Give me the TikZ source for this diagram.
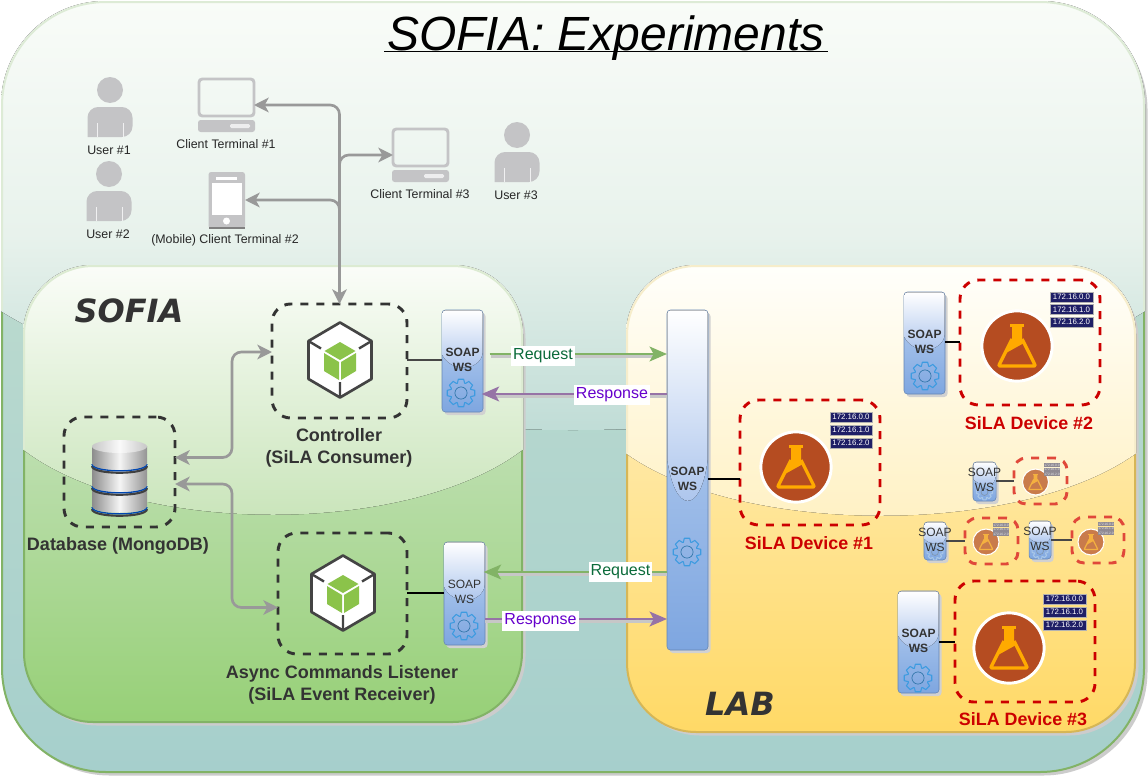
\documentclass[tikz,border=0pt]{standalone}
\usepackage{fontspec}
\setmainfont{Liberation Sans}
\newfontfamily\djfont{DejaVu Sans}
\usetikzlibrary{arrows.meta}
\definecolor{grayarrow}{HTML}{999999}
\definecolor{iconGray}{HTML}{C4C4C6}
\definecolor{dashBlack}{HTML}{333333}
\definecolor{dashRed}{HTML}{CC0000}
\definecolor{dashFade}{HTML}{E0483A}
\definecolor{reqGreen}{HTML}{82B366}
\definecolor{respPurple}{HTML}{9673A6}
\definecolor{reqText}{HTML}{0B6B3A}
\definecolor{respText}{HTML}{6600CC}
\definecolor{gearBlue}{HTML}{3D9BE0}
\definecolor{gearFade}{HTML}{A9C7E8}
\definecolor{tagNavy}{HTML}{1F1F66}
\definecolor{tagFade}{HTML}{8F8A93}
\definecolor{flaskBrown}{HTML}{B54C21}
\definecolor{flaskOrange}{HTML}{FFAA00}
\definecolor{fadeBrown}{HTML}{C97B4B}
\definecolor{fadeOrange}{HTML}{F4B040}
\definecolor{cubeGreen}{HTML}{8BC34A}
\definecolor{hexDark}{HTML}{444444}
\definecolor{BB}{HTML}{C0D5F2}
\definecolor{BC}{HTML}{7EA6E0}
\definecolor{BD}{HTML}{A8C2EC}
\definecolor{outerTop}{HTML}{C6E0D0}
\definecolor{outerBot}{HTML}{A6CFCC}
\definecolor{outerGlT}{HTML}{F9FCF8}
\definecolor{outerGlM}{HTML}{E8F2EC}
\definecolor{outerGlB}{HTML}{B8D8D2}
\definecolor{outerPale}{HTML}{DDEBD6}
\definecolor{greenTop}{HTML}{D5E8D4}
\definecolor{greenBot}{HTML}{97D077}
\definecolor{greenGlT}{HTML}{FBFDF9}
\definecolor{greenGlB}{HTML}{C6E3B6}
\definecolor{greenPale}{HTML}{DCEBD2}
\definecolor{yellowTop}{HTML}{FFF2CC}
\definecolor{yellowBot}{HTML}{FFD966}
\definecolor{yellowLine}{HTML}{D6B656}
\definecolor{yellowGlT}{HTML}{FFFFFC}
\definecolor{yellowGlB}{HTML}{FFF0C0}
\definecolor{yellowPale}{HTML}{F6EDCB}
\tikzset{
  gtip/.tip={Stealth[length=11pt,width=11pt,inset=3pt]},
  garrow/.style={draw=grayarrow,line width=2pt,rounded corners=7pt,gtip-gtip},
  garrowone/.style={draw=grayarrow,line width=2pt,rounded corners=7pt,-gtip},
  rawbox/.style={inner sep=0pt,outer sep=0pt,rectangle},
  dbox/.style={rawbox,draw=dashBlack,line width=2.2pt,dash pattern=on 6pt off 6pt,rounded corners=14pt},
  rbox/.style={rawbox,draw=dashRed,line width=2.2pt,dash pattern=on 6pt off 6pt,rounded corners=14pt},
  fbox/.style={rawbox,draw=dashFade,line width=2.2pt,dash pattern=on 6pt off 6pt,rounded corners=9pt},
  smalllab/.style={inner sep=0pt,font=\fontsize{9.3}{11}\selectfont,text=black!85},
  biglab/.style={inner sep=0pt,align=center,font=\fontsize{13.5}{16.5}\selectfont\bfseries,text=dashBlack},
  redlab/.style={inner sep=0pt,font=\fontsize{13.4}{16}\selectfont\bfseries,text=dashRed},
  headlab/.style={inner sep=0pt,text=dashBlack,font=\djfont\fontsize{24}{28}\selectfont\bfseries\itshape},
  soaptxt/.style={inner sep=0pt,align=center,text=dashBlack,font=\fontsize{9}{11.25}\selectfont},
  soapbold/.style={soaptxt,font=\fontsize{9}{11.25}\selectfont\bfseries},
  wirelab/.style={rawbox,fill=white,font=\fontsize{12}{14}\selectfont,minimum height=15pt,inner xsep=1.5pt},
  wirelink/.style={line width=2.2pt,draw=black},
  wirefade/.style={line width=2.2pt,draw=black!72},
  shadowline/.style={line width=2pt,draw=black!22},
  reqline/.style={line width=2.2pt,draw=reqGreen,-{Stealth[length=13pt,width=11pt,inset=3pt]}},
  respline/.style={line width=2.2pt,draw=respPurple,-{Stealth[length=13pt,width=11pt,inset=3pt]}},
  iptag/.style={rawbox,fill=tagNavy,draw=gray!60,line width=.2pt,text=white,font=\fontsize{5.9}{7}\selectfont},
  iptagfade/.style={rawbox,fill=tagFade,text=white!80!tagFade,font=\fontsize{2.4}{3}\selectfont},
  curtag/.style={iptag},
  outerglass/.style={top color=outerGlT,bottom color=outerGlB,middle color=outerGlM},
  greenglass/.style={top color=greenGlT,bottom color=greenGlB},
  yellowglass/.style={top color=yellowGlT,bottom color=yellowGlB},
}
% name x1 y1 x2 y2 style
\newcommand{\placebox}[6]{%
  \pgfmathsetmacro\pw{(#4-#2)*0.75}\pgfmathsetmacro\ph{(#5-#3)*0.75}%
  \node[#6,minimum width=\pw pt,minimum height=\ph pt] (#1) at ({(#2+#4)/2},{(#3+#5)/2}) {};}
% name x1 y1 x2 y2 radius top bottom border
\newcommand{\glossbase}[9]{%
  \fill[black!20,rounded corners=#6] (#2+3.5,#3+3.5) rectangle (#4+3.5,#5+3.5);
  \placebox{#1}{#2}{#3}{#4}{#5}{rawbox,draw=#9,line width=1.5pt,top color=#7,bottom color=#8,rounded corners=#6}}
% x1 y1 x2 y2 radius glass-style pale edge ctrl
\newcommand{\glosstop}[9]{%
  \pgfmathsetmacro\gw{#3-#1}\pgfmathsetmacro\gxa{#1+0.22*\gw}\pgfmathsetmacro\gxb{#3-0.22*\gw}%
  \begin{scope}
    \clip[rounded corners=#5] (#1-1,#2-1) rectangle (#3+1,#4+1);
    \fill[#6] (#1-3,#2-3) -- (#3+3,#2-3) -- (#3+3,#8) .. controls (\gxb,#9) and (\gxa,#9) .. (#1-3,#8) -- cycle;
  \end{scope}
  \begin{scope}
    \clip (#1-4,#2-4) rectangle (#3+4,#8);
    \draw[#7,line width=1.5pt,rounded corners=#5] (#1,#2) rectangle (#3,#4);
  \end{scope}}
\newcommand{\gear}[5]{% x y r1 r2 colour
  \begin{scope}[shift={(#1,#2)},line cap=round,line join=round]
  \foreach \a in {0,45,...,315}{
    \draw[#5,line width=.8pt] ({\a-20}:#3) -- ({\a-11}:#4) -- ({\a+11}:#4) -- ({\a+20}:#3) -- ({\a+25}:#3);
  }
  \draw[#5!75!black,line width=.5pt] (0,0) circle ({#3*0.58});
  \end{scope}}
\newcommand{\gearr}{10.5}\newcommand{\gearR}{14}\newcommand{\gearc}{gearBlue}
% name x1 y1 x2 y2 textstyle textY gx gy
\newcommand{\soapws}[9]{%
  \fill[black!18,rounded corners=2.5pt] (#2+2.5,#3+3) rectangle (#4+2.5,#5+3);
  \placebox{#1}{#2}{#3}{#4}{#5}{rawbox,draw=BC!80!black,line width=.4pt,rounded corners=2.5pt,top color=BB,bottom color=BC}
  \pgfmathsetmacro\hh{#5-#3}\pgfmathsetmacro\ww{#4-#2}%
  \pgfmathsetmacro\ye{#3+0.44*\hh}\pgfmathsetmacro\yc{#3+0.60*\hh}%
  \pgfmathsetmacro\xa{#2+0.2*\ww}\pgfmathsetmacro\xb{#4-0.2*\ww}%
  \fill[top color=white,bottom color=BD,rounded corners=2.5pt] (#2+.3,\ye) -- (#2+.3,#3+.3) -- (#4-.3,#3+.3) -- (#4-.3,\ye) [sharp corners] .. controls (\xb,\yc) and (\xa,\yc) .. (#2+.3,\ye) -- cycle;
  \gear{#8}{#9}{\gearr}{\gearR}{\gearc}
  \node[#6] at ({(#2+#4)/2},#7) {SOAP\\WS};}
% name cx cy scale circle flask
\newcommand{\flask}[6]{%
  \pgfmathsetmacro\rr{34*#4}\pgfmathsetmacro\lwf{2.5*#4}\pgfmathsetmacro\sfx{#4*0.75}\pgfmathsetmacro\ringw{2.2*#4}\pgfmathsetmacro\dia{1.55*\rr}%
  \node[circle,inner sep=0pt,outer sep=0pt,fill=#5,draw=white,line width=\ringw pt,minimum size=\dia pt] (#1) at (#2,#3) {};
  \begin{scope}[shift={(#2,#3)},x=\sfx pt,y=-\sfx pt]
    \fill[#6] (-7,-22) rectangle (7,-19);
    \fill[#6] (-5,-19) -- (5,-19) -- (5,-7) -- (7,-3) -- (-12.8,8) -- (-5,-7) -- cycle;
    \draw[#6,line width=\lwf pt,line join=round] (-5,-7) -- (-17,17) .. controls (-18.5,20) .. (-15,20) -- (15,20) .. controls (18.5,20) .. (17,17) -- (5,-7);
  \end{scope}}
\newcommand{\placetag}[6]{%
  \pgfmathsetmacro\pw{(#4-#2)*0.75}\pgfmathsetmacro\ph{(#5-#3)*0.75}%
  \node[curtag,minimum width=\pw pt,minimum height=\ph pt] (#1) at ({(#2+#4)/2},{(#3+#5)/2}) {#6};}
% prefix x1 x2 y h step
\newcommand{\iptags}[6]{%
  \foreach \ipi/\ipt in {0/172.16.0.0,1/172.16.1.0,2/172.16.2.0}{
    \pgfmathsetmacro\ya{#4+\ipi*#6}\pgfmathsetmacro\yb{\ya+#5}
    \placetag{#1\ipi}{#2}{\ya}{#3}{\yb}{\ipt}
  }}
\newcommand{\person}[3]{% name cx headY
  \node[circle,fill=iconGray,inner sep=0pt,minimum size=19.5pt] (#1) at (#2,#3) {};
  \fill[iconGray,rounded corners=8pt] (#2-22.5,#3+47) -- (#2-22.5,#3+17) -- (#2+22.5,#3+17) -- (#2+22.5,#3+47) [sharp corners] -- cycle;
  \draw[white!75!iconGray,line width=.6pt] (#2-13,#3+33) -- (#2-13,#3+47) (#2+13,#3+33) -- (#2+13,#3+47);}
\newcommand{\terminal}[3]{% name x y
  \placebox{#1}{#2}{#3}{#2+55}{#3+37}{rawbox,draw=iconGray,line width=2.2pt,rounded corners=2.5pt}
  \fill[iconGray,rounded corners=2pt] (#2-1,#3+41) rectangle (#2+56,#3+53);
  \fill[white!70!iconGray,rounded corners=1pt] (#2+31,#3+45) rectangle (#2+51,#3+49);}
\newcommand{\hexcube}[3]{% name cx cy
  \begin{scope}[shift={(#2,#3)}]
  \node[rawbox] (#1) at (0,0) {};
  \filldraw[fill=white,draw=hexDark,line width=2pt,line join=round] (0,-37.5) -- (31.5,-19) -- (31.5,19) -- (0,37.5) -- (-31.5,19) -- (-31.5,-19) -- cycle;
  \draw[hexDark,line width=1.8pt] (-31.5,-19) -- (-19,-11.5) (31.5,-19) -- (19,-11.5) (0,37.5) -- (0,22);
  \fill[cubeGreen] (0,-18) -- (15.5,-9) -- (0,0) -- (-15.5,-9) -- cycle;
  \fill[cubeGreen] (-16,-7) -- (-1,2) -- (-1,20) -- (-16,11) -- cycle;
  \fill[cubeGreen] (16,-7) -- (1,2) -- (1,20) -- (16,11) -- cycle;
  \end{scope}}
\newcommand{\cyl}[2]{% y top, y bottom
  \draw[black!75,line width=1.6pt] (92,#2+3) .. controls (92,#2+12) and (147,#2+12) .. (147,#2+3);
  \draw[blue!60!cyan!70!black,line width=1pt] (92,#2+1) .. controls (92,#2+10) and (147,#2+10) .. (147,#2+1);
  \shade[left color=black!45,right color=black!42,middle color=black!4] (92,#1) -- (92,#2) .. controls (92,#2+9) and (147,#2+9) .. (147,#2) -- (147,#1) -- cycle;}
\begin{document}
\begin{tikzpicture}[x=0.75pt,y=-0.75pt]
\useasboundingbox (0,0) rectangle (1148,778);
\fill[white] (0,0) rectangle (1148,778);
% ---- containers
\glossbase{outer}{2}{2}{1144}{772}{78pt}{outerTop}{outerBot}{reqGreen}
\glosstop{2}{2}{1144}{772}{78pt}{outerglass}{outerPale}{310}{470}
\glossbase{sofia}{24}{266}{522}{722}{52pt}{greenTop}{greenBot}{reqGreen}
\glosstop{24}{266}{522}{722}{52pt}{greenglass}{greenPale}{448}{537}
\glossbase{lab}{627}{266}{1135}{732}{52pt}{yellowTop}{yellowBot}{yellowLine}
\glosstop{627}{266}{1135}{732}{52pt}{yellowglass}{yellowPale}{452}{537}
% ---- title and headings
\node[anchor=base,inner sep=2pt,font=\fontsize{36}{40}\selectfont\itshape] (title) at (606,50) {SOFIA: Experiments};
\draw[line width=.9pt] (title.west |- 0,51.5) -- (title.east |- 0,51.5);
\node[headlab] (hsofia) at (129,311) {SOFIA};
\node[headlab] (hlab) at (740,704) {LAB};
% ---- users and terminals
\person{u1}{110}{90}
\person{u2}{109}{174}
\person{u3}{517}{135}
\node[smalllab] (u1l) at (109,150) {User \#1};
\node[smalllab] (u2l) at (108,234) {User \#2};
\node[smalllab] (u3l) at (516,195) {User \#3};
\terminal{term1}{199}{79}
\terminal{term3}{393}{129}
\node[smalllab] (t1l) at (226,144) {Client Terminal \#1};
\node[smalllab] (t3l) at (420,194.5) {Client Terminal \#3};
\placebox{mobile}{208.5}{172}{245}{228.5}{rawbox,fill=iconGray,rounded corners=2pt}
\fill[white] (212,183) rectangle (241.5,215);
\fill[white] (216,176.5) rectangle (237,180);
\fill[white] (226.5,221) circle (3.5);
\fill[black!50] (208.5,227) rectangle (245,229);
\node[smalllab] (t2l) at (225,240.5) {(Mobile) Client Terminal \#2};
% ---- dashed component boxes
\placebox{ctrl}{272}{304}{407}{418}{dbox}
\placebox{async}{278}{533}{407}{654}{dbox}
\placebox{db}{64}{417}{175}{527}{dbox}
\hexcube{ctrlicon}{340}{360}
\hexcube{asyncicon}{343}{593}
\node[biglab] (ctrll) at (339,448) {Controller\\(SiLA Consumer)};
\node[biglab] (asyncl) at (342,684.5) {Async Commands Listener\\(SiLA Event Receiver)};
\node[biglab] (dbl) at (118,546) {Database (MongoDB)};
% ---- database stack
\cyl{488}{506}
\cyl{466}{485}
\cyl{446}{463}
\shade[left color=black!22,right color=black!22,middle color=black!2] (119.5,446.5) ellipse (27.5 and 6.5);
% ---- soap services
\soapws{soapa}{442}{310}{483}{412}{soapbold}{359.5}{461}{393}
\soapws{soapb}{444}{542}{485}{645}{soaptxt}{592}{464}{626}
\soapws{bus}{667}{310}{708}{650}{soapbold}{478.5}{687}{552}
\soapws{soapc}{904}{292}{945}{394}{soapbold}{341.5}{925}{376}
\soapws{soapd}{898}{591}{939}{693}{soapbold}{640.5}{918}{678}
% ---- main devices
\placebox{dev1}{740}{400}{880}{525}{rbox}
\placebox{dev2}{960}{280}{1100}{405}{rbox}
\placebox{dev3}{955}{581}{1095}{702}{rbox}
\flask{fl1}{796}{467}{1}{flaskBrown}{flaskOrange}
\flask{fl2}{1017}{346}{1}{flaskBrown}{flaskOrange}
\flask{fl3}{1009}{648}{1}{flaskBrown}{flaskOrange}
\iptags{tga}{830}{872}{412}{10}{13}
\iptags{tgb}{1050}{1093}{292}{10}{12.5}
\iptags{tgc}{1043}{1086}{594}{10}{13}
\node[redlab] (dev1l) at (809,543) {SiLA Device \#1};
\node[redlab] (dev2l) at (1029,423) {SiLA Device \#2};
\node[redlab] (dev3l) at (1023,719) {SiLA Device \#3};
% ---- faded devices
\renewcommand{\gearr}{6}\renewcommand{\gearR}{8}\renewcommand{\gearc}{gearFade}
\soapws{soape}{973}{462}{996}{501}{soaptxt}{479.5}{984.5}{492}
\soapws{soapf}{924}{522}{946}{560}{soaptxt}{539.5}{935}{552}
\soapws{soapg}{1029}{521}{1051}{559}{soaptxt}{538.5}{1040}{551}
\placebox{deve}{1014}{458}{1067}{504}{fbox}
\placebox{devf}{965}{518}{1018}{564}{fbox}
\placebox{devg}{1072}{517}{1124}{563}{fbox}
\flask{fle}{1035.5}{482}{0.37}{fadeBrown}{fadeOrange}
\flask{flf}{986}{542}{0.37}{fadeBrown}{fadeOrange}
\flask{flg}{1091}{542}{0.37}{fadeBrown}{fadeOrange}
\tikzset{curtag/.style={iptagfade}}
\iptags{tge}{1044}{1060}{463}{4}{4.7}
\iptags{tgf}{993}{1009}{523}{4}{4.7}
\iptags{tgg}{1098}{1114}{522}{4}{4.7}
% ---- links
\draw[wirefade] (ctrl.east |- 0,360) -- (soapa.west |- 0,360);
\draw[wirelink] (async.east |- 0,593) -- (soapb.west |- 0,593);
\draw[wirelink] (bus.east |- 0,479) -- (dev1.west |- 0,479);
\draw[wirelink] (soapc.east |- 0,342) -- (dev2.west |- 0,342);
\draw[wirelink] (soapd.east |- 0,642) -- (dev3.west |- 0,642);
\draw[wirefade] (soape.east |- 0,481) -- (deve.west |- 0,481);
\draw[wirefade] (soapf.east |- 0,541) -- (devf.west |- 0,541);
\draw[wirefade] (soapg.east |- 0,540) -- (devg.west |- 0,540);
% ---- gray arrows
\draw[garrow] (term1.east |- 0,105) -- (ctrl.north |- 0,105) -- (ctrl.north);
\draw[garrowone] (ctrl.north |- 0,172) -- (ctrl.north |- 0,155) -- (term3.west |- 0,155);
\draw[garrowone] (ctrl.north |- 0,215) -- (ctrl.north |- 0,200) -- (mobile.east |- 0,200);
\coordinate (hubdb) at (232,400);
\draw[garrow] (ctrl.west |- 0,352) -- (hubdb |- 0,352) -- (hubdb |- 0,457.5) -- (db.east |- 0,457.5);
\draw[garrow] (db.east |- 0,484) -- (hubdb |- 0,484) -- (hubdb |- 0,607.5) -- (async.west |- 0,607.5);
% ---- request / response
\draw[shadowline,shorten <=6pt,shorten >=9pt] (soapa.east |- 0,356.5) -- (bus.west |- 0,356.5);
\draw[reqline,shorten <=5pt] (soapa.east |- 0,354) -- (bus.west |- 0,354);
\draw[shadowline,shorten >=9pt] (bus.west |- 0,396.5) -- (soapa.east |- 0,396.5);
\draw[respline,shorten >=-1pt] (bus.west |- 0,394) -- (soapa.east |- 0,394);
\draw[shadowline,shorten >=9pt] (bus.west |- 0,574.5) -- (soapb.east |- 0,574.5);
\draw[reqline,shorten >=-1pt] (bus.west |- 0,572) -- (soapb.east |- 0,572);
\draw[shadowline,shorten >=9pt] (soapb.east |- 0,621.5) -- (bus.west |- 0,621.5);
\draw[respline] (soapb.east |- 0,619) -- (bus.west |- 0,619);
\node[wirelab,text=reqText] (rq1) at (543,355.5) {Request};
\node[wirelab,text=respText] (rs1) at (612,394.5) {Response};
\node[wirelab,text=reqText] (rq2) at (620.5,571.5) {Request};
\node[wirelab,text=respText] (rs2) at (540.5,620.5) {Response};
\end{tikzpicture}
\end{document}
